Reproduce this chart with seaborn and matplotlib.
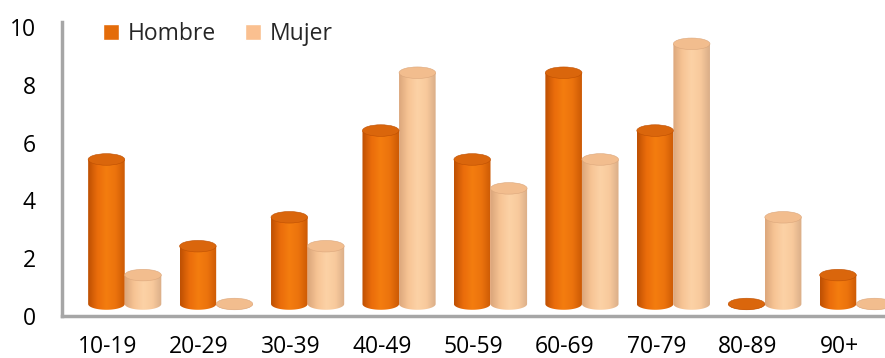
import numpy as np
import pandas as pd
import matplotlib
matplotlib.use('Agg')
import matplotlib.pyplot as plt
import matplotlib.transforms as mtransforms
from matplotlib.patches import Ellipse, PathPatch, Patch
from matplotlib.path import Path
from matplotlib.colors import LinearSegmentedColormap
import seaborn as sns

# Data
grupos = ['10-19', '20-29', '30-39', '40-49', '50-59', '60-69', '70-79', '80-89', '90+']
hombre = [5, 2, 3, 6, 5, 8, 6, 0, 1]
mujer = [1, 0, 2, 8, 4, 5, 9, 3, 0]

df = pd.DataFrame({
    'grupo': grupos * 2,
    'sexo': ['Hombre'] * len(grupos) + ['Mujer'] * len(grupos),
    'valor': hombre + mujer,
})

colores = {'Hombre': '#E46C0A', 'Mujer': '#FAC090'}
# shading across the cylinder: dark edge -> bright -> dark edge
sombras = {
    'Hombre': ['#BE5003', '#EA6C0B', '#F47D0F', '#EC730D', '#CC5A05'],
    'Mujer': ['#DCA77C', '#F7C494', '#FCD2A6', '#F8C99C', '#DAAE88'],
}
tapas = {'Hombre': '#DA660C', 'Mujer': '#F2BD8E'}

sns.set_style('white')
plt.rcParams['font.family'] = ['Open Sans', 'DejaVu Sans']

fig = plt.figure(figsize=(8.85, 3.58), dpi=100)
ax = fig.add_axes([62 / 885, 42 / 358, 823 / 885, 294 / 358])

sns.barplot(data=df, x='grupo', y='valor', hue='sexo', palette=colores,
            saturation=1, width=0.8, edgecolor='none', ax=ax, legend=False)

# fake 3D depth: move the bars right and up a little
desplaz = ax.transData + mtransforms.ScaledTranslation(0.17, 0.12, fig.dpi_scale_trans)
alto_elipse = 0.4

barras = [p for p in ax.patches]
for i, p in enumerate(barras):
    sexo = 'Hombre' if i < len(grupos) else 'Mujer'
    x, w, h = p.get_x(), p.get_width(), p.get_height()
    cx = x + w / 2
    p.set_visible(False)

    # body outline: rectangle plus rounded bottom
    t = np.linspace(np.pi, 2 * np.pi, 40)
    fondo = np.column_stack([cx + w / 2 * np.cos(t), alto_elipse / 2 * np.sin(t)])
    verts = np.vstack([[x, h], fondo, [x + w, h], [x, h]])
    codes = [Path.MOVETO] + [Path.LINETO] * (len(verts) - 2) + [Path.CLOSEPOLY]
    cuerpo = PathPatch(Path(verts, codes), facecolor='none', edgecolor='none',
                       transform=desplaz)
    ax.add_patch(cuerpo)

    cmap = LinearSegmentedColormap.from_list(sexo, sombras[sexo])
    grad = np.linspace(0, 1, 100).reshape(1, -1)
    im = ax.imshow(grad, cmap=cmap, aspect='auto', interpolation='bicubic',
                   extent=[x, x + w, -alto_elipse / 2, h], transform=desplaz,
                   zorder=2)
    im.set_clip_path(cuerpo)

    tapa = Ellipse((cx, h), w, alto_elipse, facecolor=tapas[sexo],
                   edgecolor=sombras[sexo][0], linewidth=0.4,
                   transform=desplaz, zorder=3)
    ax.add_patch(tapa)

ax.set_xlim(-0.5, len(grupos) - 0.5)
ax.set_ylim(0, 10.17)
ax.set_yticks([0, 2, 4, 6, 8, 10])
ax.set_xlabel('')
ax.set_ylabel('')
ax.tick_params(axis='both', length=0, labelsize=16.5, colors='black')
ax.tick_params(axis='y', pad=19)
ax.tick_params(axis='x', pad=14)

for lado in ['top', 'right']:
    ax.spines[lado].set_visible(False)
for lado in ['left', 'bottom']:
    ax.spines[lado].set_color('#A6A6A6')
    ax.spines[lado].set_linewidth(2.5)

handles = [Patch(facecolor=colores['Hombre']), Patch(facecolor=colores['Mujer'])]
ax.legend(handles, ['Hombre', 'Mujer'], loc='upper left', ncol=2, frameon=False,
          fontsize=16.5, handlelength=0.7, handleheight=0.7, handletextpad=0.35,
          columnspacing=1.3, bbox_to_anchor=(0.025, 1.07))

fig.savefig('out.png', dpi=100)
